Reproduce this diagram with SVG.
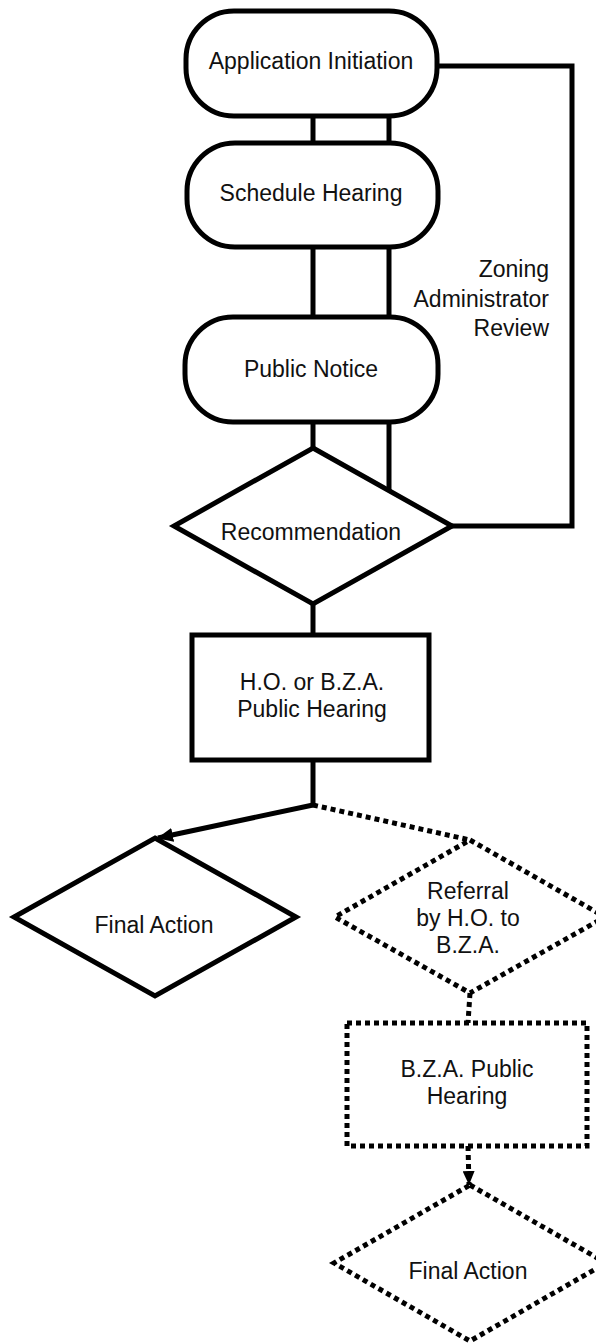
<svg xmlns="http://www.w3.org/2000/svg" width="596" height="1343" viewBox="0 0 596 1343">
<style>
.s{fill:#fff;stroke:#000;stroke-width:5}
.d{fill:#fff;stroke:#000;stroke-width:5;stroke-dasharray:5 4}
.c{fill:none;stroke:#000;stroke-width:5}
.cd{fill:none;stroke:#000;stroke-width:5;stroke-dasharray:5 4}
text{font-family:"Liberation Sans",Arial,sans-serif;font-size:23px;fill:#111;text-anchor:middle}
</style>
<defs>
<marker id="ah" markerUnits="userSpaceOnUse" markerWidth="16" markerHeight="14" refX="15" refY="7" orient="auto">
<path d="M0,0 L16,7 L0,14 Z" fill="#000"/>
</marker>
<marker id="ah2" markerUnits="userSpaceOnUse" markerWidth="14" markerHeight="12" refX="14" refY="6" orient="auto">
<path d="M0,0 L14,6 L0,12 Z" fill="#000"/>
</marker>
</defs>
<rect width="596" height="1343" fill="#fff"/>
<g id="connectors">
<line class="c" x1="313" y1="116" x2="313" y2="143"/>
<line class="c" x1="389" y1="116" x2="389" y2="143"/>
<line class="c" x1="313" y1="247" x2="313" y2="317"/>
<line class="c" x1="389" y1="247" x2="389" y2="317"/>
<line class="c" x1="313" y1="422" x2="313" y2="448"/>
<line class="c" x1="389" y1="422" x2="389" y2="491"/>
<polyline class="c" points="437,66 572,66 572,526 452,526"/>
<line class="c" x1="313" y1="604" x2="313" y2="635"/>
<line class="c" x1="313" y1="760" x2="313" y2="805"/>
<line class="c" x1="313" y1="805" x2="158" y2="838" marker-end="url(#ah)"/>
<line class="cd" x1="313" y1="805" x2="470" y2="840"/>
<line class="cd" x1="470" y1="993" x2="468" y2="1023"/>
<line class="cd" x1="468" y1="1146" x2="469" y2="1185" marker-end="url(#ah2)"/>
</g>
<g id="app-init">
<rect class="s" x="186" y="11" width="251" height="105" rx="48"/>
<text x="311" y="69">Application Initiation</text>
</g>
<g id="schedule">
<rect class="s" x="187" y="143" width="251" height="104" rx="48"/>
<text x="311" y="201">Schedule Hearing</text>
</g>
<g id="notice">
<rect class="s" x="185" y="317" width="253" height="105" rx="48"/>
<text x="311" y="377">Public Notice</text>
</g>
<g id="recommendation">
<polygon class="s" points="313,448 452,526 313,604 174,526"/>
<text x="311" y="540">Recommendation</text>
</g>
<g id="za-label">
<text x="549" y="277" style="text-anchor:end">Zoning</text>
<text x="549" y="307" style="text-anchor:end">Administrator</text>
<text x="549" y="336" style="text-anchor:end">Review</text>
</g>
<g id="ho-hearing">
<rect class="s" x="192" y="635" width="237" height="125"/>
<text x="312" y="690">H.O. or B.Z.A.</text>
<text x="312" y="717">Public Hearing</text>
</g>
<g id="final1">
<polygon class="s" points="155,838 296,917 155,996 14,917"/>
<text x="154" y="933">Final Action</text>
</g>
<g id="referral">
<polygon class="d" points="470,840 605,917 470,993 335,917"/>
<text x="468" y="899">Referral</text>
<text x="468" y="926">by H.O. to</text>
<text x="468" y="953">B.Z.A.</text>
</g>
<g id="bza-hearing">
<rect class="d" x="347" y="1023" width="240" height="123"/>
<text x="467" y="1077">B.Z.A. Public</text>
<text x="467" y="1104">Hearing</text>
</g>
<g id="final2">
<polygon class="d" points="470,1185 606,1263 470,1341 334,1263"/>
<text x="468" y="1279">Final Action</text>
</g>
</svg>
